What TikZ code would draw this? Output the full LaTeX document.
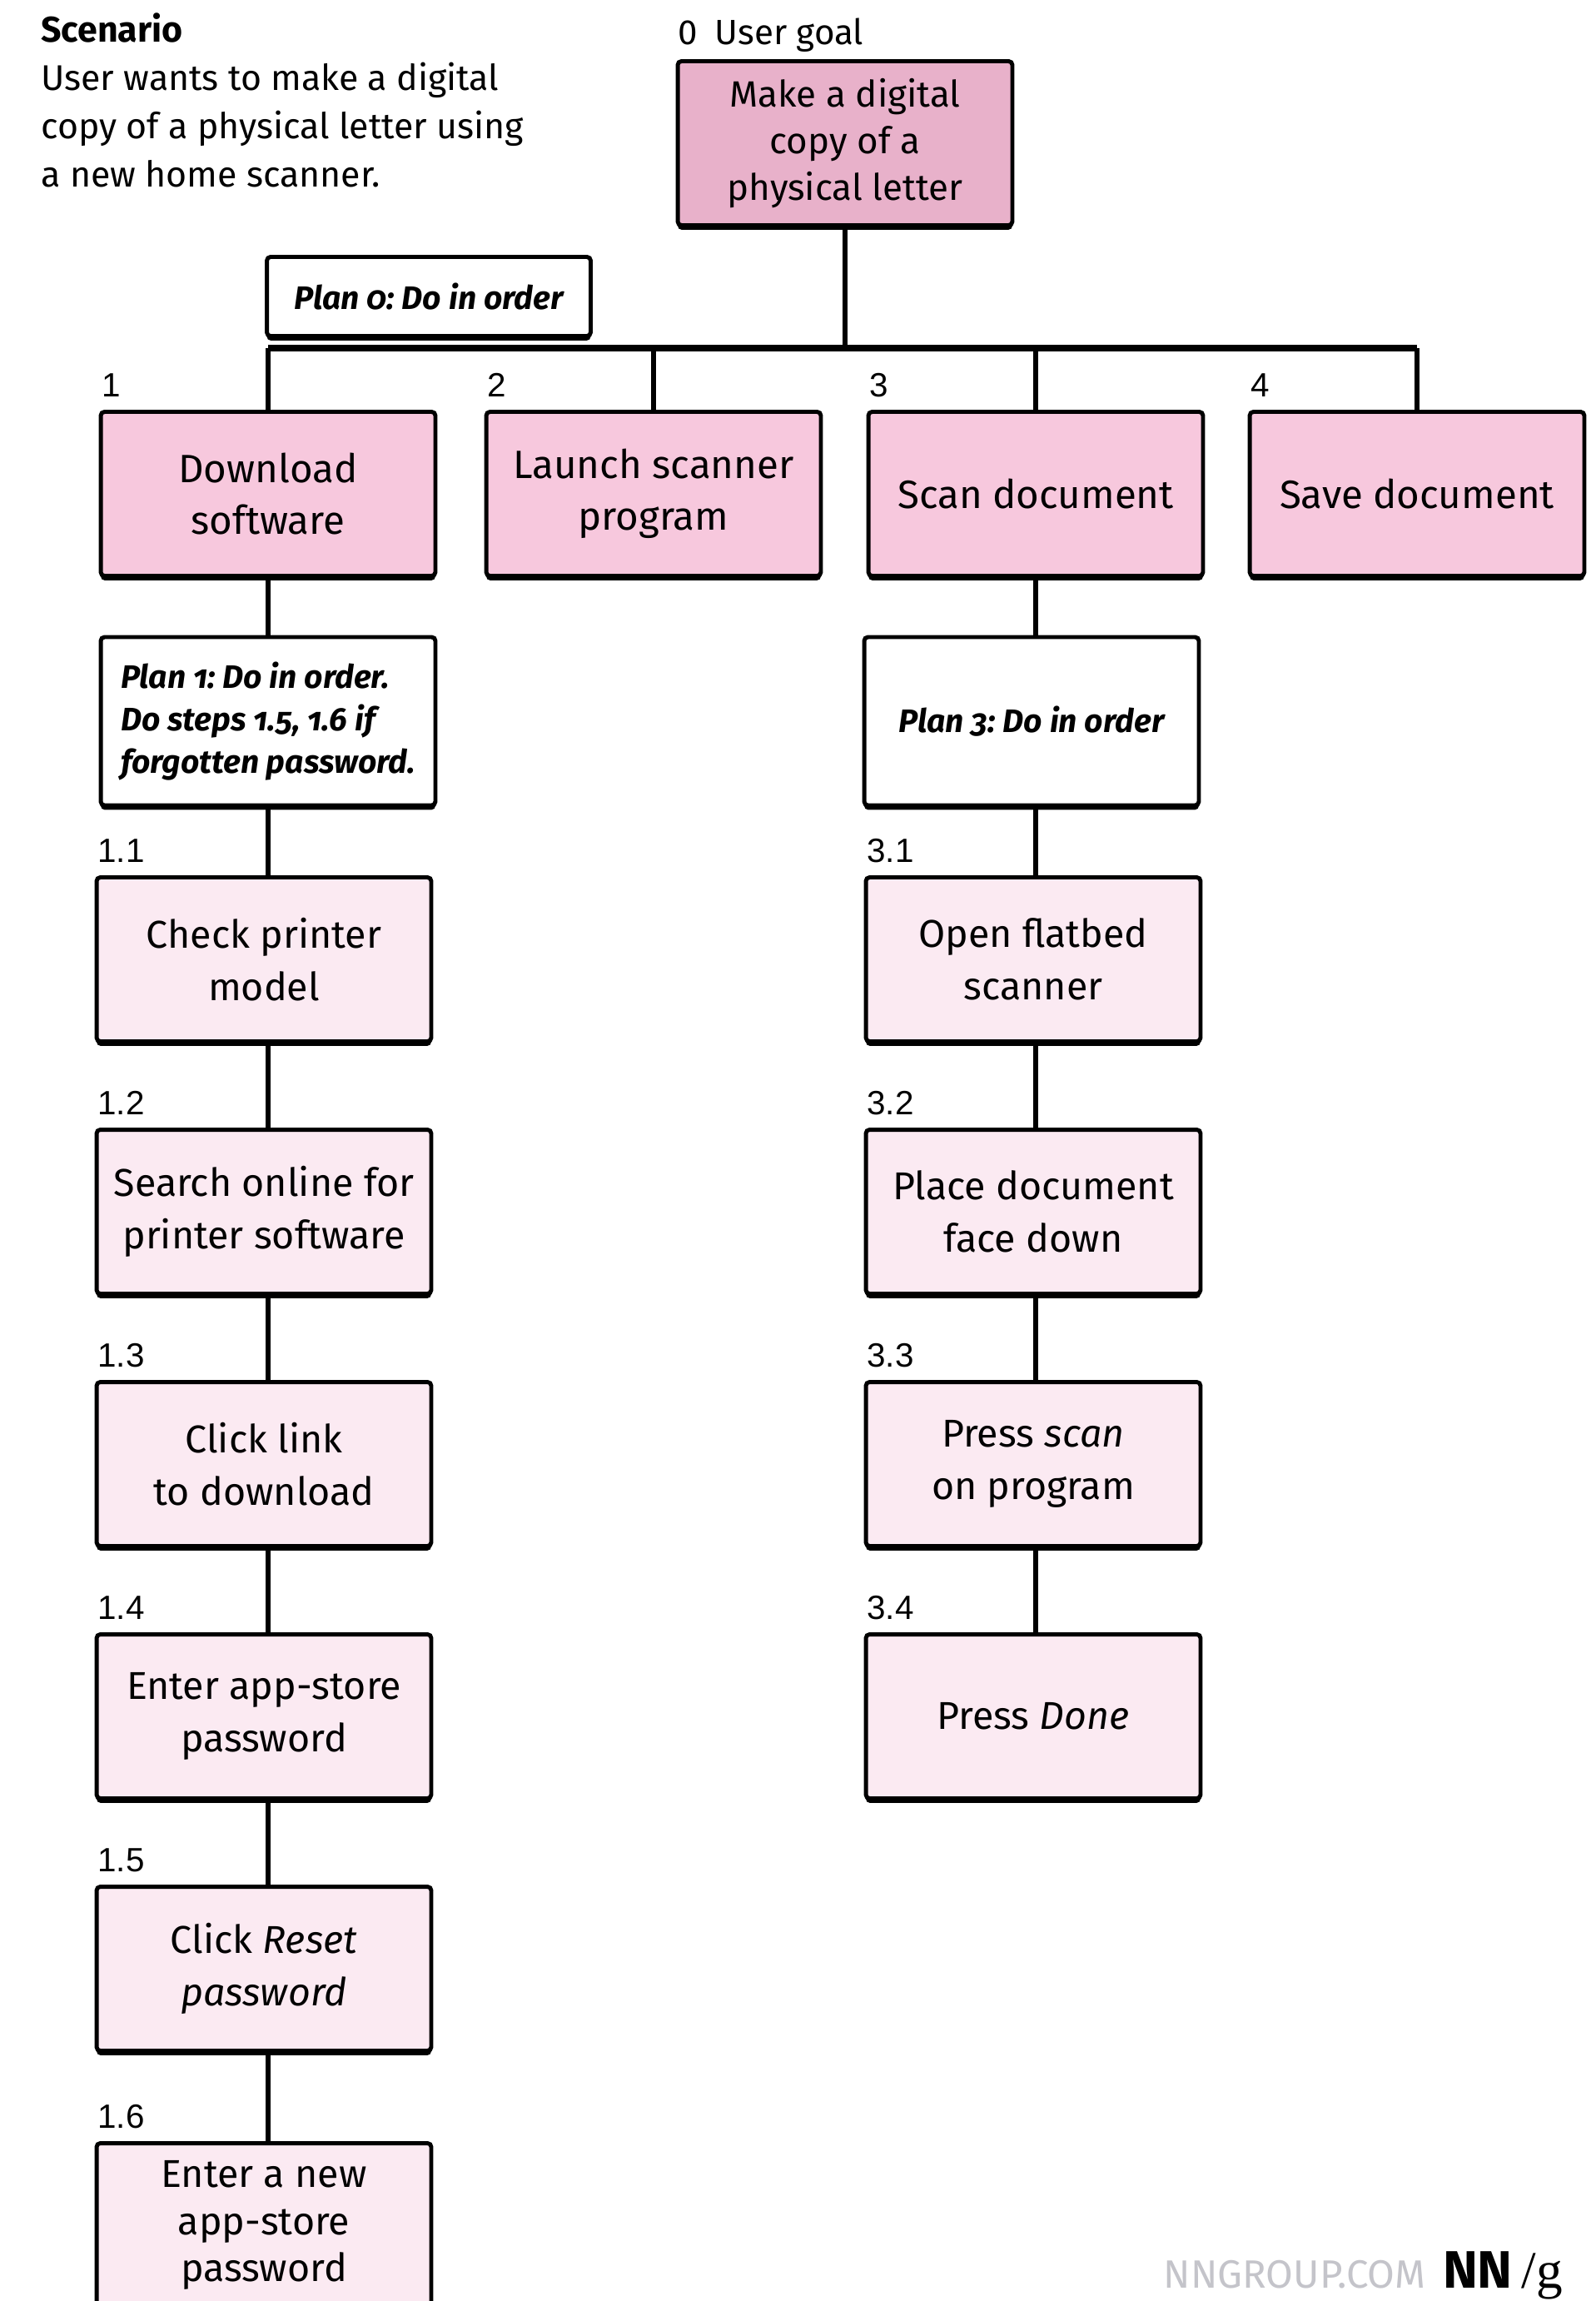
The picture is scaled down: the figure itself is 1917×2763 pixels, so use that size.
\documentclass[tikz,border=0pt]{standalone}
\usepackage{fontspec}
\setmainfont{Fira Sans}
\newfontfamily\numfont{Liberation Sans}
\newfontfamily\logoserif{Liberation Serif}
\newfontfamily\planfont{Fira Sans}[Numbers=OldStyle]
\usetikzlibrary{positioning, shadows}
\frenchspacing

\definecolor{goalpink}{HTML}{E8B1CA}
\definecolor{taskpink}{HTML}{F7C8DD}
\definecolor{steppink}{HTML}{FBEAF2}
\definecolor{webgray}{HTML}{C4C4CA}

\begin{document}
\begin{tikzpicture}[
    x=0.02cm, y=-0.02cm,
    base/.style={draw=black, line width=2.8pt, rounded corners=2.5pt,
                 align=center, inner sep=0pt,
                 minimum width=8.04cm, minimum height=3.94cm,
                 drop shadow={shadow xshift=0pt, shadow yshift=-3pt,
                              fill=black, opacity=1}},
    goal/.style={base, fill=goalpink, font=\fontsize{25pt}{32pt}\selectfont},
    task/.style={base, fill=taskpink, font=\fontsize{27pt}{35pt}\selectfont},
    stepbox/.style={base, fill=steppink, font=\fontsize{26.5pt}{36pt}\selectfont},
    plan/.style={base, fill=white,
                 font=\planfont\bfseries\itshape\fontsize{22.2pt}{29pt}\selectfont},
    num/.style={font=\numfont\fontsize{23pt}{26pt}\selectfont,
                anchor=base west, inner sep=0pt, xshift=2pt, yshift=9pt},
    link/.style={line width=3.2pt},
    busline/.style={line width=4.8pt},
  ]
  \path[use as bounding box, fill=white] (0,0) rectangle (1917,2763);
  % ---- header ----
  \node[anchor=north west, align=left, inner sep=0pt, yshift=20pt,
        font=\fontsize{24.4pt}{33pt}\selectfont] (scenario) at (49,51)
      {\textbf{Scenario}\\User wants to make a digital\\copy of a physical letter using\\a new home scanner.};
  \node[anchor=base west, inner sep=0pt, font=\fontsize{24pt}{28pt}\selectfont]
      (goalnum) at (814,53) {0\enspace User goal};
  \node[goal] (goal) at (1015,172) {Make a digital\\copy of a\\physical letter};
  \node[plan, minimum width=7.78cm, minimum height=1.9cm] (plan0) at (515,356)
      {Plan 0: Do in order};
  \coordinate (bus) at (0,418);
  % ---- level 1 ----
  \node[task] (t1) at (322,593)  {Download\\software};
  \node[task] (t2) at (785,593)  {Launch scanner\\program};
  \node[task] (t3) at (1244,593) {Scan document};
  \node[task] (t4) at (1702,593) {Save document};
  \node[plan, minimum height=4.04cm, align=left] (plan1) at (322,866)
      {Plan 1: Do in order.\\Do steps 1.5, 1.6 if\\forgotten password.};
  \node[plan, minimum height=4.04cm] (plan3) at (1239,866) {Plan 3: Do in order};
  % ---- level 2: download ----
  \node[stepbox] (s11) at (317,1152) {Check printer\\model};
  \node[stepbox] (s12) at (317,1455) {Search online for\\printer software};
  \node[stepbox] (s13) at (317,1758) {Click link\\to download};
  \node[stepbox] (s14) at (317,2061) {Enter app-store\\password};
  \node[stepbox] (s15) at (317,2364) {Click \textit{Reset}\\\textit{password}};
  \node[stepbox, font=\fontsize{26.5pt}{32pt}\selectfont] (s16) at (317,2672)
      {Enter a new\\app-store\\password};
  % ---- level 2: scan ----
  \node[stepbox] (s31) at (1241,1152) {Open flatbed\\scanner};
  \node[stepbox] (s32) at (1241,1455) {Place document\\face down};
  \node[stepbox] (s33) at (1241,1758) {Press \textit{scan}\\on program};
  \node[stepbox] (s34) at (1241,2061) {Press \textit{Done}};
  % ---- numbers ----
  \node[num] (n1) at (t1.north west) {1};
  \node[num] (n2) at (t2.north west) {2};
  \node[num] (n3) at (t3.north west) {3};
  \node[num] (n4) at (t4.north west) {4};
  \node[num] (n11) at (s11.north west) {1.1};
  \node[num] (n12) at (s12.north west) {1.2};
  \node[num] (n13) at (s13.north west) {1.3};
  \node[num] (n14) at (s14.north west) {1.4};
  \node[num] (n15) at (s15.north west) {1.5};
  \node[num] (n16) at (s16.north west) {1.6};
  \node[num] (n31) at (s31.north west) {3.1};
  \node[num] (n32) at (s32.north west) {3.2};
  \node[num] (n33) at (s33.north west) {3.3};
  \node[num] (n34) at (s34.north west) {3.4};
  % ---- connectors ----
  \draw[link] (goal.south) -- (goal.south |- bus);
  \draw[busline] (t1.north |- bus) -- (t4.north |- bus);
  \foreach \t in {t1,t2,t3,t4}
    \draw[link] (\t.north |- bus) -- (\t.north);
  \foreach \a/\b in {t1/plan1, plan1/s11, s11/s12, s12/s13, s13/s14, s14/s15, s15/s16}
    \draw[link] (\a.south -| t1) -- (\b.north -| t1);
  \foreach \a/\b in {t3/plan3, plan3/s31, s31/s32, s32/s33, s33/s34}
    \draw[link] (\a.south -| t3) -- (\b.north -| t3);
  % ---- footer ----
  \node[anchor=base east, inner sep=0pt,
        font=\bfseries\fontsize{36pt}{36pt}\selectfont] (logo) at (1877,2747)
      {NN\,{\logoserif\mdseries/g}};
  \node[anchor=base east, inner sep=0pt, text=webgray,
        font=\fontsize{27pt}{27pt}\selectfont, xshift=-0.4cm] (site) at (logo.base west)
      {NNGROUP.COM};
\end{tikzpicture}
\end{document}
